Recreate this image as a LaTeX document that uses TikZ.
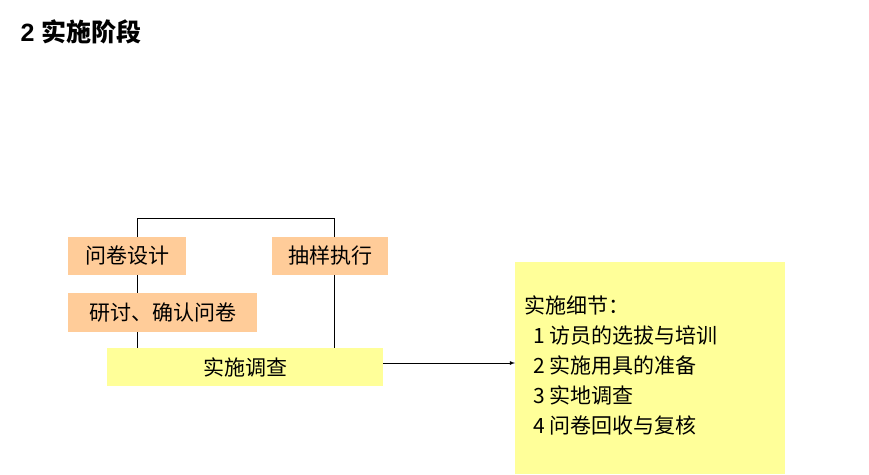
\documentclass[tikz,border=0pt]{standalone}
\usepackage{fontspec}
\newfontfamily\cjk{Noto Sans CJK SC}
\setmainfont{Liberation Sans}
\begin{document}
\begin{tikzpicture}[x=1pt,y=-1pt,
  box/.style={inner sep=0pt,outer sep=0pt,font=\fontsize{21}{30}\selectfont},
  ob/.style={box,fill={rgb,255:red,255;green,204;blue,153}},
  yb/.style={box,fill={rgb,255:red,255;green,255;blue,153}},
  ln/.style={draw=black,line width=0.8pt}]
\useasboundingbox (0,0) rectangle (869,474);
\node[anchor=west,font=\bfseries\fontsize{25}{28}\selectfont] (title) at (17,32) {2 \cjk 实施阶段};
\node[ob,minimum width=118,minimum height=38] (a) at (127,256) {\cjk 问卷设计};
\node[ob,minimum width=116,minimum height=38] (b) at (330,256) {\cjk 抽样执行};
\node[ob,minimum width=189,minimum height=39] (c) at (162.5,312.5) {\cjk 研讨、确认问卷};
\node[yb,minimum width=276,minimum height=38] (d) at (245,367) {\cjk 实施调查};
\node[yb,minimum width=270,minimum height=212,anchor=north west] (e) at (515,262) {};
\node[box,anchor=north west,align=left] (et) at (524,296) {\cjk 实施细节：\\ \cjk\ \ 1 访员的选拔与培训\\ \cjk\ \ 2 实施用具的准备\\ \cjk\ \ 3 实地调查\\ \cjk\ \ 4 问卷回收与复核};
\coordinate (p1) at (137,218);
\coordinate (p2) at (334,218);
\draw[ln] (137,237) -- (p1) -- (p2) -- (334,237);
\draw[ln] (137,275) -- (137,293);
\draw[ln] (137,332) -- (137,348);
\draw[ln] (334,275) -- (334,348);
\draw[ln,-latex] (d.east |- 0,363) -- (e.west |- 0,363);
\end{tikzpicture}
\end{document}
